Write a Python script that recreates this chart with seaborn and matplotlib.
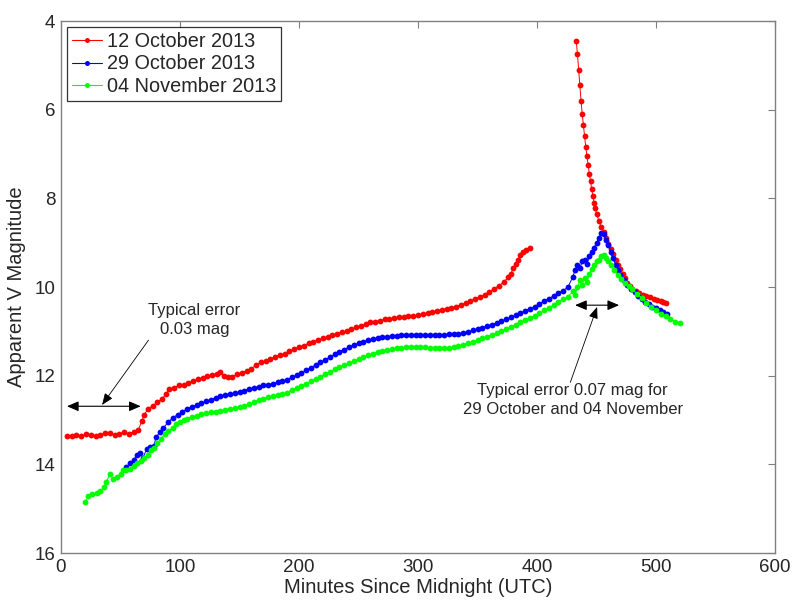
import matplotlib
matplotlib.use("Agg")
import matplotlib.pyplot as plt
import numpy as np
import pandas as pd
import seaborn as sns
from matplotlib.patches import FancyArrowPatch
from matplotlib.lines import Line2D

# ---------------- data ----------------
labels = ["12 October 2013", "29 October 2013", "04 November 2013"]
colors = ["#ff0000", "#0000ff", "#00ff00"]

oct12_x_a = [5, 9, 13, 17, 21, 25, 29, 33, 37, 41, 45, 49, 53, 57, 61, 65, 68, 70, 73, 77,
             81, 85, 88, 91, 95, 99, 103, 107, 111, 115, 119, 123, 127, 131, 134, 137, 140, 144, 148, 152,
             156, 160, 164, 168, 172, 176, 180, 184, 188, 192, 196, 200, 204, 208, 212, 216, 220, 224, 228, 232,
             236, 240, 244, 248, 252, 256, 260, 264, 268, 272, 276, 280, 284, 288, 292, 296, 300, 304, 308, 312,
             316, 320, 324, 328, 332, 336, 340, 344, 348, 352, 356, 360, 364, 368, 372, 376, 378, 380, 382, 384,
             386, 388, 391, 394]
oct12_y_a = [13.37, 13.35, 13.33, 13.36, 13.32, 13.33, 13.37, 13.33, 13.30, 13.30, 13.33, 13.32, 13.28, 13.31, 13.27, 13.22, 13.02, 12.88, 12.75, 12.68,
             12.60, 12.52, 12.42, 12.30, 12.27, 12.22, 12.20, 12.16, 12.12, 12.08, 12.05, 12.01, 11.99, 11.96, 11.92, 12.00, 12.04, 12.02, 11.97, 11.93,
             11.89, 11.84, 11.76, 11.70, 11.67, 11.62, 11.58, 11.53, 11.50, 11.45, 11.40, 11.36, 11.32, 11.27, 11.23, 11.20, 11.16, 11.12, 11.08, 11.05,
             11.02, 10.99, 10.95, 10.91, 10.87, 10.83, 10.80, 10.78, 10.76, 10.73, 10.72, 10.70, 10.68, 10.67, 10.66, 10.65, 10.63, 10.61, 10.59, 10.57,
             10.54, 10.51, 10.49, 10.47, 10.44, 10.40, 10.36, 10.31, 10.27, 10.22, 10.17, 10.11, 10.04, 9.97, 9.89, 9.78, 9.70, 9.58, 9.48, 9.38,
             9.28, 9.22, 9.17, 9.12]

oct12_x_b = [433, 434, 435, 436, 437, 438, 439, 440, 441, 442, 443, 444, 445, 446, 447, 448, 449, 450, 452, 454,
             456, 458, 460, 462, 464, 466, 468, 470, 472, 474, 476, 478, 480, 483, 486, 489, 492, 495, 498, 501,
             504, 506, 508]
oct12_y_b = [4.45, 4.75, 5.10, 5.45, 5.80, 6.10, 6.35, 6.60, 6.85, 7.05, 7.25, 7.45, 7.62, 7.80, 7.95, 8.10, 8.22, 8.35, 8.50, 8.65,
             8.75, 8.90, 9.02, 9.14, 9.25, 9.38, 9.50, 9.60, 9.70, 9.80, 9.90, 9.98, 10.05, 10.10, 10.14, 10.17, 10.20, 10.23, 10.26, 10.29,
             10.31, 10.33, 10.35]

oct29_x = [55, 58, 61, 64, 66, 69, 72, 75, 78, 80, 83, 86, 90, 94, 98, 102, 106, 110, 114, 118,
           122, 126, 130, 134, 138, 142, 146, 150, 154, 158, 162, 166, 170, 174, 178, 182, 186, 190, 194, 198,
           202, 206, 210, 214, 218, 222, 226, 230, 234, 238, 242, 246, 250, 254, 258, 262, 266, 270, 274, 278,
           282, 286, 290, 294, 298, 302, 306, 310, 314, 318, 322, 326, 330, 334, 338, 342, 346, 350, 354, 358,
           362, 366, 370, 374, 378, 382, 386, 390, 394, 398, 402, 406, 410, 414, 418, 422, 426, 430, 432, 434,
           436, 438, 440, 442, 444, 446, 448, 450, 452, 454, 456, 458, 460, 462, 464, 466, 468, 470, 473, 476,
           479, 482, 485, 488, 491, 494, 497, 500, 503, 506, 509]
oct29_y = [14.05, 13.98, 13.90, 13.78, 13.75, 13.85, 13.65, 13.62, 13.58, 13.38, 13.28, 13.18, 13.05, 12.95, 12.88, 12.82, 12.75, 12.70, 12.66, 12.62,
           12.58, 12.54, 12.50, 12.46, 12.43, 12.41, 12.40, 12.37, 12.34, 12.30, 12.27, 12.25, 12.22, 12.20, 12.18, 12.15, 12.12, 12.09, 12.04, 11.99,
           11.94, 11.88, 11.82, 11.76, 11.70, 11.64, 11.58, 11.52, 11.46, 11.41, 11.36, 11.31, 11.27, 11.23, 11.20, 11.17, 11.15, 11.13, 11.12, 11.11,
           11.10, 11.09, 11.09, 11.09, 11.08, 11.09, 11.09, 11.09, 11.09, 11.08, 11.08, 11.07, 11.06, 11.05, 11.03, 11.01, 10.98, 10.95, 10.92, 10.88,
           10.85, 10.81, 10.77, 10.73, 10.68, 10.64, 10.59, 10.54, 10.49, 10.44, 10.38, 10.32, 10.26, 10.20, 10.14, 10.08, 10.00, 9.78, 9.62, 9.50,
           9.58, 9.42, 9.38, 9.48, 9.30, 9.22, 9.12, 9.00, 8.90, 8.78, 8.80, 8.95, 9.05, 9.20, 9.35, 9.50, 9.62, 9.72, 9.85, 9.95,
           10.05, 10.12, 10.20, 10.27, 10.33, 10.39, 10.44, 10.48, 10.52, 10.56, 10.60]

nov04_x = [20, 23, 26, 30, 33, 36, 38, 41, 44, 47, 50, 52, 55, 58, 61, 64, 67, 70, 73, 76,
           78, 81, 84, 87, 90, 94, 97, 100, 103, 106, 110, 114, 118, 122, 126, 130, 134, 138, 142, 146,
           150, 154, 158, 162, 166, 170, 174, 178, 182, 186, 190, 194, 198, 202, 206, 210, 214, 218, 222, 226,
           230, 234, 238, 242, 246, 250, 254, 258, 262, 266, 270, 274, 278, 282, 286, 290, 294, 298, 302, 306,
           310, 314, 318, 322, 326, 330, 334, 338, 342, 346, 350, 354, 358, 362, 366, 370, 374, 378, 382, 386,
           390, 394, 398, 402, 406, 410, 414, 418, 422, 426, 430, 432, 434, 436, 438, 440, 442, 444, 446, 448,
           450, 452, 454, 456, 458, 460, 462, 465, 468, 471, 474, 477, 480, 484, 488, 492, 496, 500, 504, 508,
           512, 516, 520]
nov04_y = [14.86, 14.72, 14.68, 14.64, 14.60, 14.52, 14.40, 14.22, 14.33, 14.28, 14.22, 14.12, 14.13, 14.10, 14.03, 13.98, 13.93, 13.85, 13.78, 13.68,
           13.64, 13.52, 13.42, 13.32, 13.25, 13.17, 13.10, 13.05, 13.00, 12.97, 12.93, 12.90, 12.87, 12.85, 12.83, 12.81, 12.79, 12.77, 12.75, 12.73,
           12.71, 12.68, 12.64, 12.59, 12.55, 12.52, 12.49, 12.46, 12.43, 12.41, 12.38, 12.33, 12.28, 12.23, 12.18, 12.13, 12.08, 12.02, 11.97, 11.91,
           11.86, 11.81, 11.76, 11.72, 11.68, 11.63, 11.58, 11.54, 11.50, 11.47, 11.44, 11.42, 11.40, 11.38, 11.37, 11.36, 11.36, 11.36, 11.36, 11.36,
           11.37, 11.38, 11.38, 11.38, 11.37, 11.35, 11.33, 11.30, 11.27, 11.24, 11.20, 11.16, 11.12, 11.08, 11.04, 11.00, 10.95, 10.90, 10.85, 10.80,
           10.75, 10.70, 10.65, 10.59, 10.53, 10.47, 10.41, 10.34, 10.28, 10.22, 10.10, 10.18, 10.00, 9.85, 9.95, 9.80, 9.88, 9.70, 9.60, 9.50,
           9.42, 9.38, 9.30, 9.28, 9.35, 9.42, 9.50, 9.62, 9.72, 9.82, 9.90, 9.98, 10.05, 10.15, 10.25, 10.35, 10.45, 10.52, 10.60, 10.66,
           10.72, 10.78, 10.82]

x_ticks = [0, 100, 200, 300, 400, 500, 600]
y_ticks = [4, 6, 8, 10, 12, 14, 16]

# ---------------- build long table ----------------
frames = [
    pd.DataFrame({"t": oct12_x_a, "mag": oct12_y_a, "date": labels[0], "seg": "a"}),
    pd.DataFrame({"t": oct12_x_b, "mag": oct12_y_b, "date": labels[0], "seg": "b"}),
    pd.DataFrame({"t": oct29_x, "mag": oct29_y, "date": labels[1], "seg": "a"}),
    pd.DataFrame({"t": nov04_x, "mag": nov04_y, "date": labels[2], "seg": "a"}),
]
df = pd.concat(frames, ignore_index=True)
df["unit"] = df["date"] + df["seg"]

sns.set_style("white")
plt.rcParams["font.family"] = ["Liberation Sans", "DejaVu Sans"]

fig = plt.figure(figsize=(7.94, 6.0), dpi=100)
ax = fig.add_axes([61 / 794, 47 / 600, 714 / 794, 532 / 600])

palette = dict(zip(labels, colors))
sns.lineplot(data=df, x="t", y="mag", hue="date", units="unit", estimator=None,
             palette=palette, hue_order=labels, sort=False, marker="o",
             markersize=4.2, markeredgewidth=0, linewidth=0.7, legend=False, ax=ax)

ax.set_xlim(0, 600)
ax.set_ylim(16, 4)
ax.set_xticks(x_ticks)
ax.set_yticks(y_ticks)
ax.tick_params(axis="both", which="both", direction="in", length=5, width=0.8,
               color="#808080", top=True, right=True, labelsize=13.5, pad=4)
for sp in ax.spines.values():
    sp.set_color("#808080")
    sp.set_linewidth(1.0)
ax.set_xlabel("Minutes Since Midnight (UTC)", fontsize=14.5, labelpad=2)
ax.set_ylabel("Apparent V Magnitude", fontsize=14.5, labelpad=6)

# legend
handles = [Line2D([0], [0], color=c, lw=0.8, marker="o", markersize=3.6, markeredgewidth=0)
           for c in colors]
leg = ax.legend(handles, labels, loc="upper left", fontsize=14.3, frameon=True, fancybox=False,
                edgecolor="black", borderaxespad=0.3, borderpad=0.25, labelspacing=0.18,
                handlelength=1.5, handletextpad=0.25)
leg.get_frame().set_linewidth(0.9)

# annotations
def double_arrow(x0, x1, y):
    ax.add_patch(FancyArrowPatch((x0, y), (x1, y), arrowstyle="<|-|>,head_length=0.7,head_width=0.3",
                                 mutation_scale=10, color="black", lw=0.8, shrinkA=0, shrinkB=0))

def pointer(xy_from, xy_to):
    ax.add_patch(FancyArrowPatch(xy_from, xy_to, arrowstyle="-|>,head_length=0.7,head_width=0.28",
                                 mutation_scale=10, color="black", lw=0.6, shrinkA=0, shrinkB=0))

double_arrow(5, 67, 12.69)
pointer((73.5, 11.2), (34.5, 12.66))
ax.text(112, 10.75, "Typical error\n0.03 mag", ha="center", va="center", fontsize=12, linespacing=1.3)

double_arrow(432, 469, 10.41)
pointer((428, 12.15), (450.5, 10.45))
ax.text(430, 12.55, "Typical error 0.07 mag for\n29 October and 04 November", ha="center", va="center",
        fontsize=12, linespacing=1.3)

fig.savefig("out.png", dpi=100)
